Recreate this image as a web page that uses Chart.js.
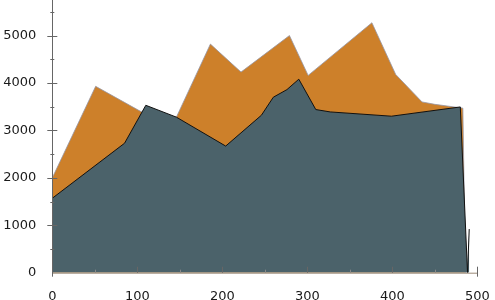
<!DOCTYPE html>
<html>
<head>
<meta charset="utf-8">
<script src="https://cdn.jsdelivr.net/npm/chart.js@4/dist/chart.umd.min.js"></script>
<style>
  html, body { margin: 0; padding: 0; background: #fff; }
  #wrap { width: 495px; height: 300px; }
</style>
</head>
<body>
<div id="wrap"><canvas id="chart"></canvas></div>
<script>
// series (x is a linear axis)
const slateX = [0, 85, 110, 146, 204, 246, 260, 276, 290, 310, 327, 399, 480, 488.5, 490.5];
const slateY = [1570, 2730, 3530, 3280, 2670, 3320, 3700, 3860, 4080, 3440, 3390, 3300, 3495, 0, 920];

const orangeX = [0, 51, 108, 146, 186, 222, 279, 301, 376, 404, 435, 450, 483, 486];
const orangeY = [2000, 3930, 3360, 3280, 4820, 4230, 5000, 4160, 5270, 4180, 3600, 3550, 3470, 0];

const xTicks = [0, 100, 200, 300, 400, 500];
const yTicks = [0, 1000, 2000, 3000, 4000, 5000];
const xMinorStep = 50;
const yMinorStep = 500;

const toPoints = (xs, ys) => xs.map((x, i) => ({ x: x, y: ys[i] }));

// draws Maple-style axes with crossing ticks
const axesPlugin = {
    id: 'axes',
    afterDatasetsDraw(chart) {
        const ctx = chart.ctx;
        const xs = chart.scales.x;
        const ys = chart.scales.y;
        const x0 = xs.getPixelForValue(0);
        const y0 = ys.getPixelForValue(0);
        ctx.save();
        ctx.lineWidth = 1;

        // x axis line
        ctx.strokeStyle = '#9c8a78';
        ctx.beginPath();
        ctx.moveTo(x0, y0 + 0.5);
        ctx.lineTo(xs.getPixelForValue(500), y0 + 0.5);
        ctx.stroke();

        ctx.strokeStyle = '#666';
        // y axis line
        ctx.beginPath();
        ctx.moveTo(Math.round(x0) + 0.5, 0);
        ctx.lineTo(Math.round(x0) + 0.5, y0 + 4);
        ctx.stroke();

        // y ticks
        for (let v = yMinorStep; v <= ys.max; v += yMinorStep) {
            const py = Math.round(ys.getPixelForValue(v)) + 0.5;
            const major = yTicks.includes(v);
            ctx.beginPath();
            ctx.moveTo(x0 - (major ? 5 : 2), py);
            ctx.lineTo(x0 + (major ? 5 : 2), py);
            ctx.stroke();
        }

        // x ticks
        for (let v = xMinorStep; v <= 500; v += xMinorStep) {
            const px = Math.round(xs.getPixelForValue(v)) + 0.5;
            const major = xTicks.includes(v);
            ctx.strokeStyle = major ? '#666' : '#888';
            ctx.beginPath();
            ctx.moveTo(px, y0 - (major ? 6 : 3));
            ctx.lineTo(px, y0 + (v === 500 ? 4 : 0));
            ctx.stroke();
        }
        ctx.restore();
    }
};

const fitY = (s) => { s.width = 52.3; s.paddingTop = 0; s.paddingBottom = 0; };
const fitX = (s) => { s.height = 27.3; s.paddingLeft = 0; s.paddingRight = 0; };

new Chart(document.getElementById('chart'), {
    type: 'line',
    data: {
        datasets: [
            {
                label: 'slate',
                data: toPoints(slateX, slateY),
                borderColor: '#111',
                borderWidth: 1,
                backgroundColor: '#4b626a',
                fill: 'origin',
                pointRadius: 0,
                tension: 0,
                order: 1
            },
            {
                label: 'orange',
                data: toPoints(orangeX, orangeY),
                borderColor: 'rgba(150,150,165,0.8)',
                borderWidth: 1,
                backgroundColor: '#cd802a',
                fill: 'origin',
                pointRadius: 0,
                tension: 0,
                order: 2
            }
        ]
    },
    options: {
        responsive: true,
        maintainAspectRatio: false,
        animation: false,
        layout: { padding: { top: 0, right: 17.7, bottom: 0, left: 0 } },
        plugins: {
            legend: { display: false },
            tooltip: { enabled: false }
        },
        scales: {
            x: {
                type: 'linear',
                min: 0,
                max: 500,
                grid: { display: false },
                border: { display: false },
                afterBuildTicks: (s) => { s.ticks = xTicks.map(v => ({ value: v })); },
                afterFit: fitX,
                ticks: {
                    color: '#1a1a1a',
                    padding: 8,
                    maxRotation: 0,
                    font: { family: 'DejaVu Sans', size: 13 },
                    callback: (v) => String(v)
                }
            },
            y: {
                type: 'linear',
                min: 0,
                max: 5750,
                grid: { display: false },
                border: { display: false },
                afterBuildTicks: (s) => { s.ticks = yTicks.map(v => ({ value: v })); },
                afterFit: fitY,
                ticks: {
                    color: '#1a1a1a',
                    padding: 8,
                    font: { family: 'DejaVu Sans', size: 13 },
                    callback: (v) => String(v)
                }
            }
        }
    },
    plugins: [axesPlugin]
});
</script>
</body>
</html>
